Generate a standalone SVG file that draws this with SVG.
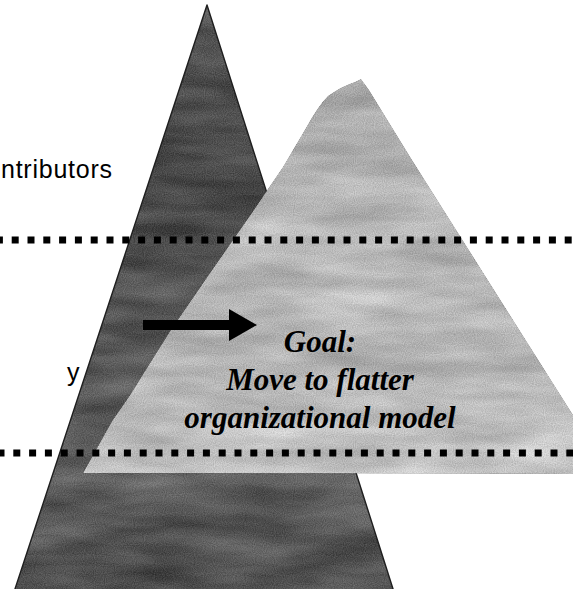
<svg xmlns="http://www.w3.org/2000/svg" width="573" height="589" viewBox="0 0 573 589">
  <style>
    .label { font-family: "Liberation Sans", Arial, sans-serif; font-size: 25px; fill: #000; }
    .goal { font-family: "Liberation Serif", "Times New Roman", serif; font-size: 31px; font-weight: bold; font-style: italic; fill: #000; text-anchor: middle; }
    .divider { stroke: #000; stroke-width: 7; stroke-dasharray: 7 8.8; fill: none; }
  </style>
  <defs>
    <!-- stone-like mottling over the two pyramid fills -->
    <filter id="marble" x="0" y="0" width="100%" height="100%" color-interpolation-filters="sRGB">
      <feTurbulence type="fractalNoise" baseFrequency="0.01 0.045" numOctaves="3" seed="7" result="veins"/>
      <feColorMatrix in="veins" type="matrix" values="1 0 0 0 0  1 0 0 0 0  1 0 0 0 0  0 0 0 0 1" result="veinsGray"/>
      <feTurbulence type="fractalNoise" baseFrequency="0.9" numOctaves="1" seed="3" result="grain"/>
      <feColorMatrix in="grain" type="matrix" values="1 0 0 0 0  1 0 0 0 0  1 0 0 0 0  0 0 0 0 1" result="grainGray"/>
      <feComposite in="SourceGraphic" in2="veinsGray" operator="arithmetic" k1="0" k2="1" k3="0.28" k4="-0.14" result="mottled"/>
      <feComposite in="mottled" in2="grainGray" operator="arithmetic" k1="0" k2="1" k3="0.24" k4="-0.12" result="grained"/>
      <feComposite in="grained" in2="SourceGraphic" operator="in"/>
    </filter>
    <linearGradient id="darkFill" x1="0" y1="0" x2="0" y2="589" gradientUnits="userSpaceOnUse">
      <stop offset="0" stop-color="#5a5a5a"/>
      <stop offset="0.27" stop-color="#474747"/>
      <stop offset="0.55" stop-color="#555555"/>
      <stop offset="0.85" stop-color="#5c5c5c"/>
      <stop offset="1" stop-color="#4c4c4c"/>
    </linearGradient>
    <linearGradient id="lightFill" x1="0" y1="77" x2="0" y2="473" gradientUnits="userSpaceOnUse">
      <stop offset="0" stop-color="#a6a6a6"/>
      <stop offset="0.35" stop-color="#b8b8b8"/>
      <stop offset="0.7" stop-color="#b3b3b3"/>
      <stop offset="0.9" stop-color="#bebebe"/>
      <stop offset="1" stop-color="#c3c3c3"/>
    </linearGradient>
  </defs>

  <rect width="573" height="589" fill="#fff"/>

  <!-- tall, narrow hierarchy -->
  <g id="pyramid-tall">
    <polygon points="207,5 394,592 14,592" fill="url(#darkFill)" filter="url(#marble)"/>
    <polygon points="207,5 394,592 14,592" fill="none" stroke="#1e1e1e" stroke-width="1.4" stroke-linejoin="round"/>
  </g>

  <!-- wide, flat hierarchy -->
  <g id="pyramid-flat">
    <path d="M83,473 L112,421 L130,395 L170,331 L212,270 L251,214 L283,167 L306,128 Q318,106 328,96 Q342,86 355,82 L361,79 L369,90 L412,160 L573,415 L573,474 Z" fill="url(#lightFill)" filter="url(#marble)"/>
  </g>

  <!-- level dividers -->
  <g id="dividers">
    <line class="divider" x1="0" y1="240" x2="573" y2="240" stroke-dashoffset="4.1"/>
    <line class="divider" x1="0" y1="453" x2="573" y2="453" stroke-dashoffset="2.5"/>
  </g>

  <g id="connectors">
    <polygon id="shift-arrow" points="143,320 229,320 229,309 257,325 229,341 229,330 143,330" fill="#000"/>
  </g>

  <g id="label-contributors">
    <text class="label" x="1" y="178" textLength="111" lengthAdjust="spacing">ntributors</text>
  </g>
  <g id="label-middle">
    <text class="label" x="67" y="381">y</text>
  </g>

  <g id="goal">
    <text class="goal" x="320" y="352">Goal:</text>
    <text class="goal" x="320" y="390">Move to flatter</text>
    <text class="goal" x="320" y="428">organizational model</text>
  </g>
</svg>
